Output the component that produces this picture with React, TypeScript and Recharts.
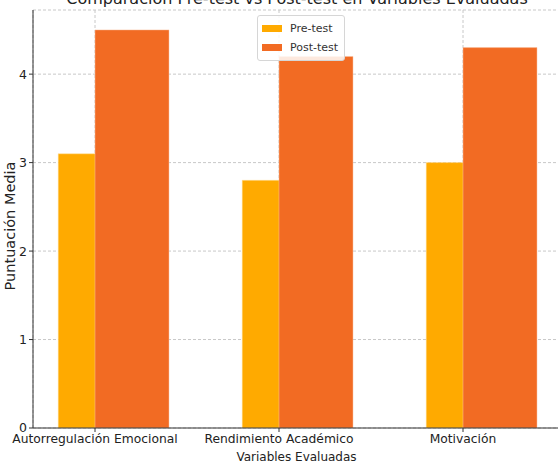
import { BarChart, Bar, XAxis, YAxis, CartesianGrid, Legend } from 'recharts'

const categories = ['Autorregulación Emocional', 'Rendimiento Académico', 'Motivación']
const preTest = [3.1, 2.8, 3.0]
const postTest = [4.5, 4.2, 4.3]
const yTicks = [0, 1, 2, 3, 4]

const data = categories.map((name, i) => ({ name, pre: preTest[i], post: postTest[i] }))

const font = '"DejaVu Sans", sans-serif'
const axisColor = '#333'

function LegendBox({ payload }: any) {
  const items = (payload || []).slice().sort((a: any) => (a.dataKey === 'pre' ? -1 : 1))
  return (
    <div
      style={{
        border: '1px solid #d6d6d6',
        borderRadius: 3,
        background: 'rgba(255,255,255,0.85)',
        padding: '3px 6px 3px 4px',
        fontFamily: font,
        fontSize: 11,
        color: '#333',
      }}
    >
      {items.map((p: any) => (
        <div key={p.value} style={{ display: 'flex', alignItems: 'center', height: 19 }}>
          <span style={{ width: 20, height: 7, background: p.color, marginRight: 8 }} />
          <span>{p.value}</span>
        </div>
      ))}
    </div>
  )
}

function YLabel({ viewBox }: any) {
  const x = viewBox.x + 10
  const y = viewBox.y + viewBox.height / 2 + 7
  return (
    <text
      x={x}
      y={y}
      transform={`rotate(-90, ${x}, ${y})`}
      textAnchor="middle"
      dominantBaseline="central"
      fontSize={14.5}
      fill="#222"
    >
      Puntuación Media
    </text>
  )
}

export default function App() {
  return (
    <div style={{ position: 'absolute', left: 0, top: 0, width: 558, height: 462, overflow: 'hidden', background: '#fff' }}>
      <div
        style={{
          position: 'absolute',
          left: 0,
          width: 594,
          top: -9,
          textAlign: 'center',
          fontFamily: font,
          fontSize: 16,
          lineHeight: '16px',
          color: '#222',
          whiteSpace: 'nowrap',
        }}
      >
        Comparación Pre-test vs Post-test en Variables Evaluadas
      </div>
      <BarChart
        width={562}
        height={462}
        data={data}
        margin={{ top: 10, right: 2, bottom: 0, left: 0 }}
        barCategoryGap="30%"
        style={{ fontFamily: font }}
      >
        <CartesianGrid xAxisId="pre" stroke="#c8c8c8" strokeDasharray="3 2" />
        <XAxis xAxisId="post" dataKey="name" hide height={0} padding={{ left: 6.8, right: -31.8 }} />
        <XAxis
          xAxisId="pre"
          dataKey="name"
          height={34}
          padding={{ left: -30, right: 5 }}
          tick={{ fontSize: 12.3, fill: '#222' }}
          tickSize={4}
          stroke={axisColor}
          interval={0}
          label={{ value: 'Variables Evaluadas', position: 'insideBottom', offset: 1, fontSize: 12, fill: '#222' }}
        />
        <YAxis
          width={33}
          domain={[0, 4.725]}
          ticks={yTicks}
          tick={{ fontSize: 12.5, fill: '#222' }}
          tickSize={4}
          stroke={axisColor}
          allowDataOverflow
          label={<YLabel />}
        />
        <Legend
          layout="vertical"
          align="center"
          verticalAlign="middle"
          wrapperStyle={{ position: 'absolute', left: 257, top: 15, width: 'auto' }}
          content={<LegendBox />}
        />
        <Bar xAxisId="pre" dataKey="pre" name="Pre-test" fill="#FFAA00" stroke="#ffe0a0" strokeWidth={0.5} isAnimationActive={false} />
        <Bar xAxisId="post" dataKey="post" name="Post-test" fill="#F26B23" stroke="#f8c0a0" strokeWidth={0.5} isAnimationActive={false} />
      </BarChart>
    </div>
  )
}
